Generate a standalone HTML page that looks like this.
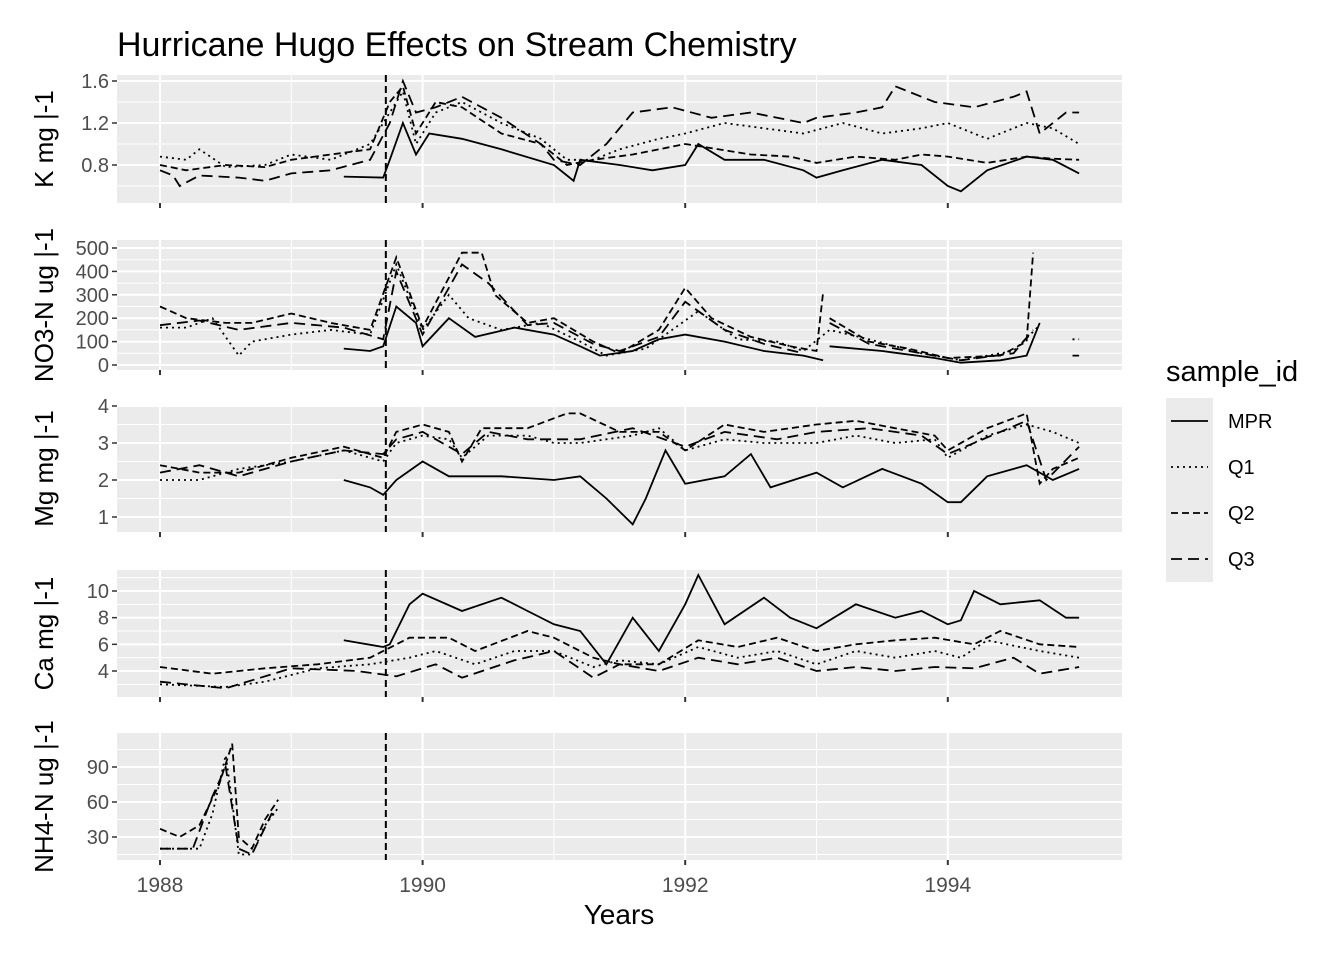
<!DOCTYPE html>
<html><head><meta charset="utf-8"><style>
body{margin:0;background:#fff;}
svg text{font-family:"Liberation Sans",Arial,sans-serif;}
</style></head><body>
<svg id="chart" width="1344" height="960" xmlns="http://www.w3.org/2000/svg">
<text x="117" y="56" font-size="34" fill="#000">Hurricane Hugo Effects on Stream Chemistry</text>
<text x="619" y="924" font-size="28" text-anchor="middle" fill="#000">Years</text>
<g id="panels"></g>
<g>
<text x="1166" y="381" font-size="29" fill="#000">sample_id</text>
<rect x="1166" y="398" width="47" height="184" fill="#EBEBEB"/>
<g id="legend-keys"></g>
</g>
</svg>
<script>
const years = [1988,1990,1992,1994];
const seriesNames = ["MPR","Q1","Q2","Q3"];
const dashes = {MPR:"", Q1:"2,4", Q2:"7,4", Q3:"11,6"};
const vline = 1989.72;

const kTicks=[0.8,1.2,1.6];
const kMPR=[[1989.4,0.69],[1989.7,0.68],[1989.75,0.85],[1989.85,1.2],[1989.95,0.9],[1990.05,1.1],[1990.3,1.05],[1990.6,0.95],[1991.0,0.8],[1991.1,0.7],[1991.15,0.65],[1991.2,0.85],[1991.5,0.8],[1991.75,0.75],[1992.0,0.8],[1992.1,1.0],[1992.3,0.85],[1992.6,0.85],[1992.9,0.75],[1993.0,0.68],[1993.2,0.75],[1993.5,0.85],[1993.8,0.8],[1994.0,0.6],[1994.1,0.55],[1994.3,0.75],[1994.6,0.88],[1994.8,0.85],[1995.0,0.72]];
const kQ1=[[1988.0,0.88],[1988.2,0.85],[1988.3,0.95],[1988.5,0.78],[1988.8,0.8],[1989.0,0.9],[1989.3,0.85],[1989.6,1.0],[1989.75,1.3],[1989.85,1.5],[1989.95,1.0],[1990.1,1.3],[1990.3,1.4],[1990.6,1.2],[1990.9,1.05],[1991.1,0.85],[1991.3,0.85],[1991.5,0.95],[1991.8,1.05],[1992.0,1.1],[1992.3,1.2],[1992.6,1.15],[1992.9,1.1],[1993.2,1.2],[1993.5,1.1],[1993.8,1.15],[1994.0,1.2],[1994.3,1.05],[1994.6,1.2],[1994.8,1.15],[1995.0,1.0]];
const kQ2=[[1988.0,0.8],[1988.2,0.75],[1988.5,0.8],[1988.8,0.78],[1989.0,0.85],[1989.3,0.9],[1989.6,0.95],[1989.75,1.4],[1989.85,1.55],[1989.95,1.1],[1990.1,1.4],[1990.3,1.35],[1990.6,1.1],[1990.9,1.0],[1991.1,0.8],[1991.3,0.85],[1991.6,0.9],[1991.8,0.95],[1992.0,1.0],[1992.5,0.9],[1992.8,0.88],[1993.0,0.82],[1993.3,0.88],[1993.6,0.85],[1993.8,0.9],[1994.0,0.88],[1994.3,0.82],[1994.6,0.88],[1994.8,0.86],[1995.0,0.85]];
const kQ3=[[1988.0,0.75],[1988.1,0.7],[1988.15,0.6],[1988.3,0.7],[1988.6,0.68],[1988.8,0.65],[1989.0,0.72],[1989.3,0.75],[1989.6,0.85],[1989.75,1.2],[1989.85,1.6],[1989.95,1.3],[1990.1,1.35],[1990.3,1.45],[1990.6,1.25],[1990.9,1.0],[1991.0,0.85],[1991.2,0.8],[1991.4,1.0],[1991.6,1.3],[1991.9,1.35],[1992.2,1.25],[1992.5,1.3],[1992.9,1.2],[1993.0,1.25],[1993.3,1.3],[1993.5,1.35],[1993.6,1.55],[1993.9,1.4],[1994.2,1.35],[1994.5,1.45],[1994.6,1.5],[1994.7,1.1],[1994.9,1.3],[1995.0,1.3]];

const nTicks=[0,100,200,300,400,500];
const nMPR=[[1989.4,70],[1989.6,60],[1989.7,80],[1989.8,250],[1989.95,180],[1990.0,80],[1990.2,200],[1990.4,120],[1990.7,160],[1991.0,130],[1991.2,80],[1991.35,40],[1991.6,60],[1991.8,110],[1992.0,130],[1992.3,100],[1992.6,60],[1992.9,40],[1993.05,20],null,[1993.1,80],[1993.5,60],[1993.9,30],[1994.1,10],[1994.4,20],[1994.6,40],[1994.7,180],null,[1994.95,40],[1995.0,40]];
const nQ1=[[1988.0,160],[1988.2,160],[1988.4,200],[1988.6,40],[1988.7,100],[1989.0,130],[1989.3,150],[1989.6,130],[1989.8,430],[1990.0,150],[1990.2,300],[1990.35,200],[1990.6,150],[1990.9,180],[1991.2,100],[1991.4,40],[1991.7,70],[1991.9,150],[1992.1,230],[1992.4,110],[1992.7,100],[1992.9,60],[1993.1,150],[1993.4,110],[1993.8,50],[1994.1,20],[1994.5,60],[1994.7,170],null,[1994.95,110],[1995.0,110]];
const nQ2=[[1988.0,250],[1988.2,200],[1988.5,180],[1988.7,180],[1989.0,220],[1989.3,180],[1989.6,150],[1989.8,460],[1990.0,160],[1990.3,480],[1990.45,480],[1990.55,300],[1990.8,180],[1991.0,200],[1991.3,100],[1991.5,50],[1991.8,150],[1992.0,330],[1992.2,200],[1992.5,120],[1992.8,80],[1993.0,60],[1993.05,310],null,[1993.1,200],[1993.4,100],[1993.7,70],[1994.0,30],[1994.4,40],[1994.6,100],[1994.65,480]];
const nQ3=[[1988.0,170],[1988.3,190],[1988.6,150],[1989.0,180],[1989.4,160],[1989.7,110],[1989.8,400],[1990.0,130],[1990.3,430],[1990.5,350],[1990.8,170],[1991.0,180],[1991.3,90],[1991.5,60],[1991.8,120],[1992.0,270],[1992.3,150],[1992.6,90],[1992.9,50],null,[1993.1,180],[1993.4,90],[1993.8,50],[1994.1,20],[1994.5,50],[1994.65,150]];

const mTicks=[1,2,3,4];
const mMPR=[[1989.4,2.0],[1989.6,1.8],[1989.7,1.6],[1989.8,2.0],[1990.0,2.5],[1990.2,2.1],[1990.6,2.1],[1991.0,2.0],[1991.2,2.1],[1991.4,1.5],[1991.6,0.8],[1991.7,1.5],[1991.85,2.8],[1992.0,1.9],[1992.3,2.1],[1992.5,2.7],[1992.65,1.8],[1993.0,2.2],[1993.2,1.8],[1993.5,2.3],[1993.8,1.9],[1994.0,1.4],[1994.1,1.4],[1994.3,2.1],[1994.6,2.4],[1994.8,2.0],[1995.0,2.3]];
const mQ1=[[1988.0,2.0],[1988.3,2.0],[1988.6,2.3],[1989.0,2.5],[1989.4,2.8],[1989.7,2.5],[1989.8,3.0],[1990.0,3.2],[1990.2,3.1],[1990.3,2.6],[1990.5,3.2],[1990.8,3.2],[1991.0,3.0],[1991.2,3.0],[1991.6,3.2],[1991.8,3.4],[1992.0,2.8],[1992.3,3.1],[1992.6,3.0],[1993.0,3.0],[1993.3,3.2],[1993.6,3.0],[1993.9,3.1],[1994.0,2.6],[1994.3,3.2],[1994.6,3.5],[1994.8,3.3],[1995.0,3.0]];
const mQ2=[[1988.0,2.4],[1988.3,2.2],[1988.6,2.2],[1989.0,2.6],[1989.4,2.9],[1989.7,2.6],[1989.8,3.3],[1990.0,3.5],[1990.2,3.3],[1990.3,2.5],[1990.45,3.4],[1990.8,3.4],[1991.1,3.8],[1991.2,3.8],[1991.5,3.3],[1991.8,3.3],[1992.0,2.8],[1992.3,3.5],[1992.6,3.3],[1993.0,3.5],[1993.3,3.6],[1993.6,3.4],[1993.9,3.2],[1994.0,2.8],[1994.3,3.4],[1994.6,3.8],[1994.7,1.9],[1994.8,2.3],[1995.0,2.6]];
const mQ3=[[1988.0,2.2],[1988.3,2.4],[1988.6,2.1],[1989.0,2.5],[1989.4,2.8],[1989.7,2.7],[1989.8,3.1],[1990.0,3.3],[1990.3,2.7],[1990.5,3.3],[1990.8,3.1],[1991.2,3.1],[1991.6,3.4],[1992.0,2.9],[1992.3,3.3],[1992.7,3.1],[1993.0,3.3],[1993.4,3.4],[1993.8,3.2],[1994.0,2.7],[1994.4,3.3],[1994.6,3.6],[1994.75,2.0],[1995.0,2.9]];

const cTicks=[4,6,8,10];
const cMPR=[[1989.4,6.3],[1989.7,5.8],[1989.75,6.0],[1989.9,9.0],[1990.0,9.8],[1990.3,8.5],[1990.6,9.5],[1990.8,8.5],[1991.0,7.5],[1991.2,7.0],[1991.4,4.5],[1991.6,8.0],[1991.8,5.5],[1992.0,9.0],[1992.1,11.2],[1992.3,7.5],[1992.6,9.5],[1992.8,8.0],[1993.0,7.2],[1993.3,9.0],[1993.6,8.0],[1993.8,8.5],[1994.0,7.5],[1994.1,7.8],[1994.2,10.0],[1994.4,9.0],[1994.7,9.3],[1994.9,8.0],[1995.0,8.0]];
const cQ1=[[1988.0,3.0],[1988.5,2.8],[1988.8,3.2],[1989.2,4.2],[1989.6,4.5],[1989.9,5.0],[1990.1,5.5],[1990.4,4.5],[1990.7,5.5],[1991.0,5.5],[1991.3,4.3],[1991.5,4.8],[1991.8,4.5],[1992.1,5.8],[1992.4,5.0],[1992.7,5.5],[1993.0,4.5],[1993.3,5.5],[1993.6,5.0],[1993.9,5.5],[1994.1,5.0],[1994.3,6.3],[1994.7,5.5],[1995.0,5.0]];
const cQ2=[[1988.0,4.3],[1988.4,3.8],[1988.8,4.2],[1989.2,4.5],[1989.6,5.0],[1989.9,6.5],[1990.2,6.5],[1990.4,5.5],[1990.8,7.0],[1991.0,6.5],[1991.3,5.0],[1991.5,4.5],[1991.8,4.5],[1992.1,6.3],[1992.4,5.8],[1992.7,6.5],[1993.0,5.5],[1993.3,6.0],[1993.6,6.3],[1993.9,6.5],[1994.2,6.0],[1994.4,7.0],[1994.7,6.0],[1995.0,5.8]];
const cQ3=[[1988.0,3.2],[1988.5,2.7],[1989.0,4.2],[1989.5,4.0],[1989.8,3.6],[1990.1,4.5],[1990.3,3.5],[1990.7,4.8],[1991.0,5.5],[1991.3,3.5],[1991.5,4.5],[1991.8,4.0],[1992.1,5.0],[1992.4,4.5],[1992.7,5.0],[1993.0,4.0],[1993.3,4.3],[1993.6,4.0],[1993.9,4.3],[1994.2,4.2],[1994.5,5.0],[1994.7,3.8],[1995.0,4.3]];

const hTicks=[30,60,90];
const hQ1=[[1988.0,20],[1988.3,20],[1988.4,50],[1988.5,100],[1988.55,60],[1988.6,15],[1988.7,15],[1988.8,40],[1988.9,55]];
const hQ2=[[1988.0,37],[1988.15,30],[1988.3,40],[1988.45,75],[1988.55,110],[1988.6,30],[1988.7,20],[1988.8,45],[1988.9,62]];
const hQ3=[[1988.0,20],[1988.25,20],[1988.4,65],[1988.5,90],[1988.6,20],[1988.7,15],[1988.85,50],[1988.9,48]];

const NS="http://www.w3.org/2000/svg";
const X0=117, X1=1122;
function xs(t){return 160+(t-1988)*131.3;}
const panels=[
 {name:"k",title:"K mg |-1",top:75,bot:203,v0:0.8,p0:165,v1:1.6,p1:81,ticks:kTicks,fmt:v=>v.toFixed(1),s:{MPR:kMPR,Q1:kQ1,Q2:kQ2,Q3:kQ3}},
 {name:"no3",title:"NO3-N ug |-1",top:240,bot:370,v0:0,p0:365,v1:500,p1:248,ticks:nTicks,fmt:v=>String(v),s:{MPR:nMPR,Q1:nQ1,Q2:nQ2,Q3:nQ3}},
 {name:"mg",title:"Mg mg |-1",top:405,bot:532,v0:1,p0:517,v1:4,p1:406,ticks:mTicks,fmt:v=>String(v),s:{MPR:mMPR,Q1:mQ1,Q2:mQ2,Q3:mQ3}},
 {name:"ca",title:"Ca mg |-1",top:570,bot:697,v0:4,p0:671,v1:10,p1:591,ticks:cTicks,fmt:v=>String(v),s:{MPR:cMPR,Q1:cQ1,Q2:cQ2,Q3:cQ3}},
 {name:"nh4",title:"NH4-N ug |-1",top:733,bot:860,v0:30,p0:837,v1:90,p1:767,ticks:hTicks,fmt:v=>String(v),s:{Q1:hQ1,Q2:hQ2,Q3:hQ3}}
];
function mk(tag,attrs,parent){const e=document.createElementNS(NS,tag);for(const k in attrs)e.setAttribute(k,attrs[k]);parent.appendChild(e);return e;}
const root=document.getElementById('panels');
panels.forEach(p=>{
 const ys=v=>p.p0+(v-p.v0)*(p.p1-p.p0)/(p.v1-p.v0);
 const g=mk('g',{},root);
 
 
 const bg=mk('rect',{x:X0,y:p.top,width:X1-X0,height:p.bot-p.top,fill:'#EBEBEB'},g);
 
 
 const step=p.ticks[1]-p.ticks[0];
 for(let i=0;i<=p.ticks.length;i++){const v=p.ticks[0]-step/2+i*step;const y=ys(v);if(y>p.top&&y<p.bot){const l=mk('line',{x1:X0,x2:X1,y1:y,y2:y,stroke:'#fff','stroke-width':1},g);}}
 [1989,1991,1993].forEach(t=>{const l=mk('line',{x1:xs(t),x2:xs(t),y1:p.top,y2:p.bot,stroke:'#fff','stroke-width':1},g);});
 p.ticks.forEach(v=>{const y=ys(v);
  const l=mk('line',{x1:X0,x2:X1,y1:y,y2:y,stroke:'#fff','stroke-width':2},g);
  
  const tk=mk('line',{x1:X0-5,x2:X0,y1:y,y2:y,stroke:'#333','stroke-width':1.5},g);
  
  const tx=mk('text',{x:X0-8,y:y+7,'font-size':20,'text-anchor':'end',fill:'#4D4D4D'},g);tx.textContent=p.fmt(v);
  
 });
 years.forEach(t=>{
  const l=mk('line',{x1:xs(t),x2:xs(t),y1:p.top,y2:p.bot,stroke:'#fff','stroke-width':2},g);
  
  const tk=mk('line',{x1:xs(t),x2:xs(t),y1:p.bot,y2:p.bot+5,stroke:'#333','stroke-width':2},g);
  
 });
 const cx=44, cy=(p.top+p.bot)/2;
 const at=mk('text',{x:cx,y:cy+9,'font-size':26,'text-anchor':'middle',fill:'#000',transform:`rotate(-90 ${cx} ${cy})`},g);
 at.textContent=p.title;
 
 const clipId='clip-'+p.name;
 const cp=mk('clipPath',{id:clipId},g);mk('rect',{x:X0,y:p.top,width:X1-X0,height:p.bot-p.top},cp);
 const sg=mk('g',{'clip-path':`url(#${clipId})`},g);
 ["MPR","Q1","Q2","Q3"].forEach(n=>{const d=p.s[n];if(!d)return;
  let path='';let pen=false;
  d.forEach(pt=>{if(!pt){pen=false;return;}path+=(pen?'L':'M')+xs(pt[0]).toFixed(1)+','+ys(pt[1]).toFixed(1);pen=true;});
  const pe=mk('path',{d:path,fill:'none',stroke:'#000','stroke-width':1.8,'stroke-dasharray':dashes[n]},sg);
  
  
 });
 const vl=mk('line',{x1:xs(vline),x2:xs(vline),y1:p.top,y2:p.bot,stroke:'#000','stroke-width':2,'stroke-dasharray':'7,4'},g);
 
});
years.forEach(t=>{
 const tx=mk('text',{x:xs(t),y:892,'font-size':21,'text-anchor':'middle',fill:'#4D4D4D'},root);tx.textContent=t;
 
});
const lk=document.getElementById('legend-keys');
seriesNames.forEach((n,i)=>{
 const y=421+i*46;
 const l=mk('line',{x1:1171,x2:1208,y1:y,y2:y,stroke:'#000','stroke-width':1.8,'stroke-dasharray':dashes[n]},lk);
 
 const tx=mk('text',{x:1228,y:y+7,'font-size':20,fill:'#000'},lk);tx.textContent=n;
 
});
</script>
</body></html>
